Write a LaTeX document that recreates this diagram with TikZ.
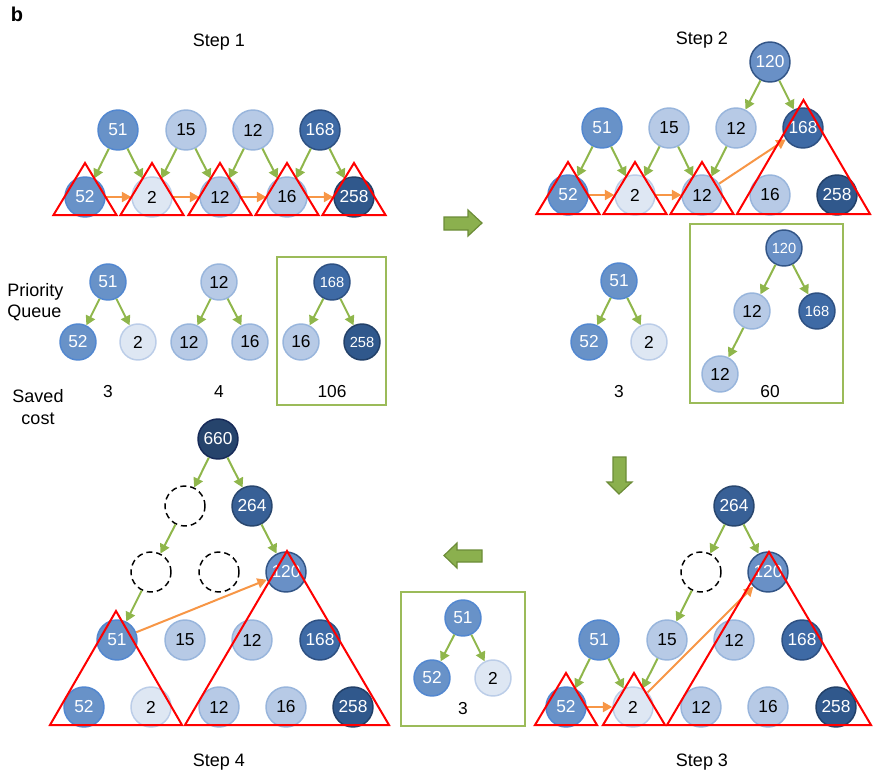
\documentclass[tikz,border=0pt]{standalone}
\usepackage{fontspec}
\setmainfont{Liberation Sans}
\usetikzlibrary{arrows.meta}

% node fills and rims
\definecolor{midF}{RGB}{104,146,200}
\definecolor{midB}{RGB}{82,135,208}
\definecolor{ltF}{RGB}{183,202,230}
\definecolor{ltB}{RGB}{152,181,220}
\definecolor{vlF}{RGB}{222,231,243}
\definecolor{vlB}{RGB}{187,205,232}
\definecolor{dkF}{RGB}{62,106,165}
\definecolor{dkB}{RGB}{45,80,130}
\definecolor{dxF}{RGB}{48,88,140}
\definecolor{dxB}{RGB}{34,64,104}
\definecolor{hbF}{RGB}{105,144,198}
\definecolor{hbB}{RGB}{50,85,135}
\definecolor{hcF}{RGB}{56,96,150}
\definecolor{hcB}{RGB}{40,70,110}
\definecolor{rootF}{RGB}{38,68,108}
\definecolor{rootB}{RGB}{22,42,88}
% connectors and frames
\definecolor{edgeG}{RGB}{143,182,75}
\definecolor{mergeO}{RGB}{247,150,70}
\definecolor{frameG}{RGB}{155,187,89}
\definecolor{blockF}{RGB}{139,176,78}
\definecolor{blockB}{RGB}{108,140,55}

\newcommand\redtri[4]{\draw[subtree] (#1,#2) -- (#1+#4,#3) -- (#1-#4,#3) -- cycle;}

\begin{document}
\begin{tikzpicture}[x=0.75pt,y=-0.75pt,
  nd/.style={circle, minimum size=30pt, inner sep=0pt, line width=1.1pt,
    font=\fontsize{13}{15}\selectfont},
  qn/.style={nd, minimum size=27pt},
  qs/.style={font=\fontsize{11}{13}\selectfont},
  cmid/.style={fill=midF, draw=midB, text=white},
  clt/.style={fill=ltF, draw=ltB, text=black},
  cvl/.style={fill=vlF, draw=vlB, text=black},
  cdk/.style={fill=dkF, draw=dkB, text=white},
  cdx/.style={fill=dxF, draw=dxB, text=white},
  chb/.style={fill=hbF, draw=hbB, text=white},
  chc/.style={fill=hcF, draw=hcB, text=white},
  croot/.style={fill=rootF, draw=rootB, text=white},
  ghost/.style={nd, draw=black, dash pattern=on 4.5pt off 3pt},
  ga/.style={draw=edgeG, line width=1.5pt, -{Triangle[length=7pt,width=7.5pt]}},
  oa/.style={draw=mergeO, line width=1.5pt, -{Triangle[length=7pt,width=7.5pt]}},
  subtree/.style={draw=red, line width=1.5pt, line join=miter},
  qframe/.style={draw=frameG, line width=1.5pt},
  blockarrow/.style={fill=blockF, draw=blockB, line width=0.9pt},
  lbl/.style={font=\fontsize{13.5}{16}\selectfont},
  cnum/.style={font=\fontsize{13}{15}\selectfont}
]
\useasboundingbox (0,0) rectangle (876,776);

\node[font=\fontsize{15}{17}\bfseries, anchor=center] (panel) at (17,14) {b};

% ---------------- Step 1 ----------------
\node[lbl] (t1) at (219,42) {Step 1};
\node[nd,cmid] (a1) at (118,130) {51};
\node[nd,clt]  (a2) at (186,130) {15};
\node[nd,clt]  (a3) at (253,130) {12};
\node[nd,cdk]  (a4) at (320,130) {168};
\node[nd,cmid] (b1) at (85,197) {52};
\node[nd,cvl]  (b2) at (152,197) {2};
\node[nd,clt]  (b3) at (220,197) {12};
\node[nd,clt]  (b4) at (287,197) {16};
\node[nd,cdx]  (b5) at (354,197) {258};
\foreach \p/\c in {a1/b1,a1/b2,a2/b2,a2/b3,a3/b3,a3/b4,a4/b4,a4/b5}
  {\draw[ga] (\p) -- (\c);}
\foreach \p/\c in {b1/b2,b2/b3,b3/b4,b4/b5}
  {\draw[oa] (\p) -- (\c);}
\foreach \x in {85,152,220,287,354} {\redtri{\x}{163}{215}{31.5}}

% priority queues after step 1
\node[lbl, align=left, anchor=west, inner sep=0pt] (pq) at (7,302) {Priority\\Queue};
\node[lbl, align=center] (sc) at (38,407) {Saved\\cost};
\node[qn,cmid] (g1) at (108,282) {51};
\node[qn,cmid] (g2) at (78,342) {52};
\node[qn,cvl]  (g3) at (138,342) {2};
\node[qn,clt]  (h1) at (219,282) {12};
\node[qn,clt]  (h2) at (189,342) {12};
\node[qn,clt]  (h3) at (250,342) {16};
\node[qn,cdk,qs] (i1) at (332,282) {168};
\node[qn,clt]  (i2) at (301,342) {16};
\node[qn,cdx,qs] (i3) at (362,342) {258};
\foreach \p/\c in {g1/g2,g1/g3,h1/h2,h1/h3,i1/i2,i1/i3}
  {\draw[ga] (\p) -- (\c);}
\node[cnum] (k1) at (108,392) {3};
\node[cnum] (k2) at (219,392) {4};
\node[cnum] (k3) at (332,392) {106};
\draw[qframe] (277,257) rectangle (386,405);

% step 1 -> step 2
\draw[blockarrow] (444,217) -- (468,217) -- (468,210) -- (482,223) -- (468,236)
  -- (468,230) -- (444,230) -- cycle;

% ---------------- Step 2 ----------------
\node[lbl] (t2) at (702,40) {Step 2};
\node[nd,chb]  (c0) at (770,62) {120};
\node[nd,cmid] (c1) at (602,128) {51};
\node[nd,clt]  (c2) at (669,128) {15};
\node[nd,clt]  (c3) at (736,128) {12};
\node[nd,cdk]  (c4) at (803,128) {168};
\node[nd,cmid] (d1) at (568,195) {52};
\node[nd,cvl]  (d2) at (635,195) {2};
\node[nd,clt]  (d3) at (702,195) {12};
\node[nd,clt]  (d4) at (770,195) {16};
\node[nd,cdx]  (d5) at (837,195) {258};
\foreach \p/\c in {c0/c3,c0/c4,c1/d1,c1/d2,c2/d2,c2/d3,c3/d3}
  {\draw[ga] (\p) -- (\c);}
\foreach \p/\c in {d1/d2,d2/d3,d3/c4}
  {\draw[oa] (\p) -- (\c);}
\foreach \x in {568,635,702} {\redtri{\x}{162}{214}{31.5}}
\redtri{803.5}{100}{214}{66.5}

% priority queues after step 2
\node[qn,cmid] (e1) at (619,281) {51};
\node[qn,cmid] (e2) at (589,342) {52};
\node[qn,cvl]  (e3) at (649,342) {2};
\draw[ga] (e1) -- (e2);
\draw[ga] (e1) -- (e3);
\node[cnum] (k4) at (619,392) {3};
\node[qn,chb,qs] (f1) at (784,248) {120};
\node[qn,clt]  (f2) at (752,311) {12};
\node[qn,cdk,qs] (f3) at (817,311) {168};
\node[qn,clt]  (f4) at (720,374) {12};
\draw[ga] (f1) -- (f2);
\draw[ga] (f1) -- (f3);
\draw[ga] (f2) -- (f4);
\node[cnum] (k5) at (770,392) {60};
\draw[qframe] (690,224) rectangle (843,403);

% step 2 -> step 3
\draw[blockarrow] (613,457) -- (626,457) -- (626,482) -- (632,482) -- (619,494)
  -- (607,482) -- (613,482) -- cycle;

% ---------------- Step 3 ----------------
\node[lbl] (t3) at (702,762) {Step 3};
\node[nd,chc]  (u0) at (734,506) {264};
\node[ghost]   (u1) at (701,572) {};
\node[nd,chb]  (u2) at (768,572) {120};
\node[nd,cmid] (v1) at (599,640) {51};
\node[nd,clt]  (v2) at (667,640) {15};
\node[nd,clt]  (v3) at (734,640) {12};
\node[nd,cdk]  (v4) at (802,640) {168};
\node[nd,cmid] (w1) at (566,707) {52};
\node[nd,cvl]  (w2) at (633,707) {2};
\node[nd,clt]  (w3) at (701,707) {12};
\node[nd,clt]  (w4) at (768,707) {16};
\node[nd,cdx]  (w5) at (836,707) {258};
\foreach \p/\c in {u0/u1,u0/u2,u1/v2,v1/w1,v1/w2,v2/w2}
  {\draw[ga] (\p) -- (\c);}
\draw[oa] (w1) -- (w2);
\draw[oa] (w2) -- (u2);
\redtri{566}{673}{725}{31}
\redtri{634}{673}{725}{31}
\redtri{769}{552}{725}{102}

% priority queue after step 3
\node[qn,cmid] (x1) at (463,618) {51};
\node[qn,cmid] (x2) at (432,678) {52};
\node[qn,cvl]  (x3) at (493,678) {2};
\draw[ga] (x1) -- (x2);
\draw[ga] (x1) -- (x3);
\node[cnum] (k6) at (463,709) {3};
\draw[qframe] (401,592) rectangle (525,726);

% step 3 -> step 4
\draw[blockarrow] (482,550) -- (457,550) -- (457,543) -- (444,555.5) -- (457,568)
  -- (457,562) -- (482,562) -- cycle;

% ---------------- Step 4 ----------------
\node[lbl] (t4) at (219,762) {Step 4};
\node[nd,croot] (p0) at (218,439) {660};
\node[ghost]    (p1) at (185,506) {};
\node[nd,chc]   (p2) at (252,506) {264};
\node[ghost]    (q1) at (151,572) {};
\node[ghost]    (q2) at (219,572) {};
\node[nd,chb]   (q3) at (286,572) {120};
\node[nd,cmid]  (r1) at (117,640) {51};
\node[nd,clt]   (r2) at (185,640) {15};
\node[nd,clt]   (r3) at (252,640) {12};
\node[nd,cdk]   (r4) at (320,640) {168};
\node[nd,cmid]  (s1) at (84,707) {52};
\node[nd,cvl]   (s2) at (151,707) {2};
\node[nd,clt]   (s3) at (219,707) {12};
\node[nd,clt]   (s4) at (286,707) {16};
\node[nd,cdx]   (s5) at (353,707) {258};
\foreach \p/\c in {p0/p1,p0/p2,p1/q1,p2/q3,q1/r1}
  {\draw[ga] (\p) -- (\c);}
\draw[oa] (r1) -- (q3);
\redtri{116}{611}{725}{66}
\redtri{287}{551}{725}{102}
\end{tikzpicture}
\end{document}
